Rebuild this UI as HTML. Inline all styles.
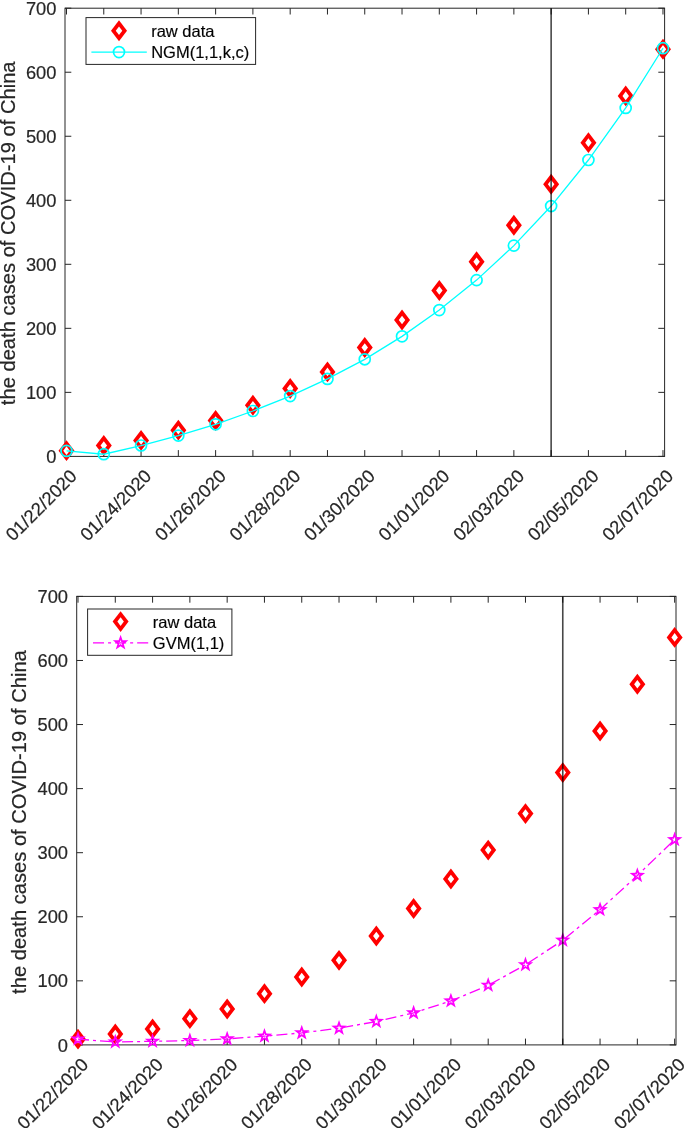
<!DOCTYPE html>
<html lang="en"><head><meta charset="utf-8"><title>COVID-19 death cases: NGM(1,1,k,c) and GVM(1,1)</title>
<style>html,body{margin:0;padding:0;background:#fff}svg{display:block}text{font-family:"Liberation Sans",Arial,Helvetica,sans-serif;stroke:#262626;stroke-width:0.2px}</style></head><body>
<svg width="685" height="1128" viewBox="0 0 685 1128">
<rect width="685" height="1128" fill="#fff"/>
<g stroke="#262626" stroke-width="1" fill="none">
<rect x="65" y="8.2" width="599.6" height="448.2"/>
<path d="M66.5 456.4v-6.3M66.5 8.2v6.3M103.78 456.4v-6.3M103.78 8.2v6.3M141.06 456.4v-6.3M141.06 8.2v6.3M178.34 456.4v-6.3M178.34 8.2v6.3M215.62 456.4v-6.3M215.62 8.2v6.3M252.9 456.4v-6.3M252.9 8.2v6.3M290.18 456.4v-6.3M290.18 8.2v6.3M327.46 456.4v-6.3M327.46 8.2v6.3M364.74 456.4v-6.3M364.74 8.2v6.3M402.02 456.4v-6.3M402.02 8.2v6.3M439.3 456.4v-6.3M439.3 8.2v6.3M476.58 456.4v-6.3M476.58 8.2v6.3M513.86 456.4v-6.3M513.86 8.2v6.3M551.14 456.4v-6.3M551.14 8.2v6.3M588.42 456.4v-6.3M588.42 8.2v6.3M625.7 456.4v-6.3M625.7 8.2v6.3M662.98 456.4v-6.3M662.98 8.2v6.3M65 456.4h6.3M664.6 456.4h-6.3M65 392.37h6.3M664.6 392.37h-6.3M65 328.34h6.3M664.6 328.34h-6.3M65 264.31h6.3M664.6 264.31h-6.3M65 200.29h6.3M664.6 200.29h-6.3M65 136.26h6.3M664.6 136.26h-6.3M65 72.23h6.3M664.6 72.23h-6.3M65 8.2h6.3M664.6 8.2h-6.3"/>
</g>
<g font-size="18.3" text-anchor="end" fill="#262626">
<text x="56.4" y="463">0</text>
<text x="56.4" y="398.97">100</text>
<text x="56.4" y="334.94">200</text>
<text x="56.4" y="270.91">300</text>
<text x="56.4" y="206.89">400</text>
<text x="56.4" y="142.86">500</text>
<text x="56.4" y="78.83">600</text>
<text x="56.4" y="14.8">700</text>
</g>
<g font-size="18.3" text-anchor="end" fill="#262626">
<text transform="translate(78 477.4) rotate(-45)">01/22/2020</text>
<text transform="translate(152.56 477.4) rotate(-45)">01/24/2020</text>
<text transform="translate(227.12 477.4) rotate(-45)">01/26/2020</text>
<text transform="translate(301.68 477.4) rotate(-45)">01/28/2020</text>
<text transform="translate(376.24 477.4) rotate(-45)">01/30/2020</text>
<text transform="translate(450.8 477.4) rotate(-45)">01/01/2020</text>
<text transform="translate(525.36 477.4) rotate(-45)">02/03/2020</text>
<text transform="translate(599.92 477.4) rotate(-45)">02/05/2020</text>
<text transform="translate(674.48 477.4) rotate(-45)">02/07/2020</text>
</g>
<text font-size="20.15" text-anchor="middle" fill="#262626" transform="translate(14.5 233.3) rotate(-90)">the death cases of COVID-19 of China</text>
<path fill="#ff0000" d="M66.5 440.19L74.5 450.64L66.5 461.09L58.5 450.64ZM103.78 435.07L111.78 445.52L103.78 455.97L95.78 445.52ZM141.06 429.94L149.06 440.39L141.06 450.84L133.06 440.39ZM178.34 419.7L186.34 430.15L178.34 440.6L170.34 430.15ZM215.62 410.09L223.62 420.54L215.62 430.99L207.62 420.54ZM252.9 394.73L260.9 405.18L252.9 415.63L244.9 405.18ZM290.18 378.08L298.18 388.53L290.18 398.98L282.18 388.53ZM327.46 361.43L335.46 371.88L327.46 382.33L319.46 371.88ZM364.74 337.1L372.74 347.55L364.74 358L356.74 347.55ZM402.02 309.57L410.02 320.02L402.02 330.47L394.02 320.02ZM439.3 280.12L447.3 290.57L439.3 301.02L431.3 290.57ZM476.58 251.3L484.58 261.75L476.58 272.2L468.58 261.75ZM513.86 214.81L521.86 225.26L513.86 235.71L505.86 225.26ZM551.14 173.83L559.14 184.28L551.14 194.73L543.14 184.28ZM588.42 132.21L596.42 142.66L588.42 153.11L580.42 142.66ZM625.7 85.47L633.7 95.92L625.7 106.37L617.7 95.92ZM662.98 38.73L670.98 49.18L662.98 59.63L654.98 49.18Z"/>
<path fill="#ffffff" d="M66.5 446.34L69.75 450.64L66.5 454.94L63.25 450.64ZM103.78 441.22L107.03 445.52L103.78 449.82L100.53 445.52ZM141.06 436.09L144.31 440.39L141.06 444.69L137.81 440.39ZM178.34 425.85L181.59 430.15L178.34 434.45L175.09 430.15ZM215.62 416.24L218.87 420.54L215.62 424.84L212.37 420.54ZM252.9 400.88L256.15 405.18L252.9 409.48L249.65 405.18ZM290.18 384.23L293.43 388.53L290.18 392.83L286.93 388.53ZM327.46 367.58L330.71 371.88L327.46 376.18L324.21 371.88ZM364.74 343.25L367.99 347.55L364.74 351.85L361.49 347.55ZM402.02 315.72L405.27 320.02L402.02 324.32L398.77 320.02ZM439.3 286.27L442.55 290.57L439.3 294.87L436.05 290.57ZM476.58 257.45L479.83 261.75L476.58 266.05L473.33 261.75ZM513.86 220.96L517.11 225.26L513.86 229.56L510.61 225.26ZM551.14 179.98L554.39 184.28L551.14 188.58L547.89 184.28ZM588.42 138.36L591.67 142.66L588.42 146.96L585.17 142.66ZM625.7 91.62L628.95 95.92L625.7 100.22L622.45 95.92ZM662.98 44.88L666.23 49.18L662.98 53.48L659.73 49.18Z"/>
<polyline points="66.5,450.89 103.78,454.22 141.06,445.52 178.34,435.59 215.62,424.32 252.9,411 290.18,396.09 327.46,378.93 364.74,359.33 402.02,336.35 439.3,310.09 476.58,280.13 513.86,245.62 551.14,206.05 588.42,160.01 625.7,107.89 662.98,48.22" fill="none" stroke="#00ffff" stroke-width="1.3"/>
<g fill="none" stroke="#00ffff" stroke-width="1.7">
<circle cx="66.5" cy="450.89" r="5.5"/>
<circle cx="103.78" cy="454.22" r="5.5"/>
<circle cx="141.06" cy="445.52" r="5.5"/>
<circle cx="178.34" cy="435.59" r="5.5"/>
<circle cx="215.62" cy="424.32" r="5.5"/>
<circle cx="252.9" cy="411" r="5.5"/>
<circle cx="290.18" cy="396.09" r="5.5"/>
<circle cx="327.46" cy="378.93" r="5.5"/>
<circle cx="364.74" cy="359.33" r="5.5"/>
<circle cx="402.02" cy="336.35" r="5.5"/>
<circle cx="439.3" cy="310.09" r="5.5"/>
<circle cx="476.58" cy="280.13" r="5.5"/>
<circle cx="513.86" cy="245.62" r="5.5"/>
<circle cx="551.14" cy="206.05" r="5.5"/>
<circle cx="588.42" cy="160.01" r="5.5"/>
<circle cx="625.7" cy="107.89" r="5.5"/>
<circle cx="662.98" cy="48.22" r="5.5"/>
</g>
<line x1="551.14" y1="8.2" x2="551.14" y2="456.4" stroke="#000" stroke-opacity="0.72" stroke-width="1.6"/>
<rect x="86" y="17.6" width="169.6" height="46.8" fill="#fff" stroke="#262626" stroke-width="1"/>
<path fill="#ff0000" d="M119 20.35L127 30.8L119 41.25L111 30.8Z"/>
<path fill="#ffffff" d="M119 26.5L122.25 30.8L119 35.1L115.75 30.8Z"/>
<line x1="91.4" y1="52.1" x2="146.8" y2="52.1" stroke="#00ffff" stroke-width="1.3"/>
<circle cx="119" cy="52.1" r="5.5" fill="none" stroke="#00ffff" stroke-width="1.7"/>
<g font-size="16.5" fill="#000">
<text x="151.2" y="36.6">raw data</text>
<text x="151.2" y="57.6">NGM(1,1,k,c)</text>
</g>
<g stroke="#262626" stroke-width="1" fill="none">
<rect x="76.7" y="596.4" width="599.3" height="448.5"/>
<path d="M78 1044.9v-6.3M78 596.4v6.3M115.29 1044.9v-6.3M115.29 596.4v6.3M152.58 1044.9v-6.3M152.58 596.4v6.3M189.87 1044.9v-6.3M189.87 596.4v6.3M227.16 1044.9v-6.3M227.16 596.4v6.3M264.45 1044.9v-6.3M264.45 596.4v6.3M301.74 1044.9v-6.3M301.74 596.4v6.3M339.03 1044.9v-6.3M339.03 596.4v6.3M376.32 1044.9v-6.3M376.32 596.4v6.3M413.61 1044.9v-6.3M413.61 596.4v6.3M450.9 1044.9v-6.3M450.9 596.4v6.3M488.19 1044.9v-6.3M488.19 596.4v6.3M525.48 1044.9v-6.3M525.48 596.4v6.3M562.77 1044.9v-6.3M562.77 596.4v6.3M600.06 1044.9v-6.3M600.06 596.4v6.3M637.35 1044.9v-6.3M637.35 596.4v6.3M674.64 1044.9v-6.3M674.64 596.4v6.3M76.7 1044.9h6.3M676 1044.9h-6.3M76.7 980.83h6.3M676 980.83h-6.3M76.7 916.76h6.3M676 916.76h-6.3M76.7 852.69h6.3M676 852.69h-6.3M76.7 788.61h6.3M676 788.61h-6.3M76.7 724.54h6.3M676 724.54h-6.3M76.7 660.47h6.3M676 660.47h-6.3M76.7 596.4h6.3M676 596.4h-6.3"/>
</g>
<g font-size="18.3" text-anchor="end" fill="#262626">
<text x="68" y="1051.5">0</text>
<text x="68" y="987.43">100</text>
<text x="68" y="923.36">200</text>
<text x="68" y="859.29">300</text>
<text x="68" y="795.21">400</text>
<text x="68" y="731.14">500</text>
<text x="68" y="667.07">600</text>
<text x="68" y="603">700</text>
</g>
<g font-size="18.3" text-anchor="end" fill="#262626">
<text transform="translate(89.5 1065.9) rotate(-45)">01/22/2020</text>
<text transform="translate(164.08 1065.9) rotate(-45)">01/24/2020</text>
<text transform="translate(238.66 1065.9) rotate(-45)">01/26/2020</text>
<text transform="translate(313.24 1065.9) rotate(-45)">01/28/2020</text>
<text transform="translate(387.82 1065.9) rotate(-45)">01/30/2020</text>
<text transform="translate(462.4 1065.9) rotate(-45)">01/01/2020</text>
<text transform="translate(536.98 1065.9) rotate(-45)">02/03/2020</text>
<text transform="translate(611.56 1065.9) rotate(-45)">02/05/2020</text>
<text transform="translate(686.14 1065.9) rotate(-45)">02/07/2020</text>
</g>
<text font-size="20.15" text-anchor="middle" fill="#262626" transform="translate(26.15 822.05) rotate(-90)">the death cases of COVID-19 of China</text>
<path fill="#ff0000" d="M78 1028.68L86 1039.13L78 1049.58L70 1039.13ZM115.29 1023.56L123.29 1034.01L115.29 1044.46L107.29 1034.01ZM152.58 1018.43L160.58 1028.88L152.58 1039.33L144.58 1028.88ZM189.87 1008.18L197.87 1018.63L189.87 1029.08L181.87 1018.63ZM227.16 998.57L235.16 1009.02L227.16 1019.47L219.16 1009.02ZM264.45 983.19L272.45 993.64L264.45 1004.09L256.45 993.64ZM301.74 966.53L309.74 976.98L301.74 987.43L293.74 976.98ZM339.03 949.88L347.03 960.33L339.03 970.78L331.03 960.33ZM376.32 925.53L384.32 935.98L376.32 946.43L368.32 935.98ZM413.61 897.98L421.61 908.43L413.61 918.88L405.61 908.43ZM450.9 868.5L458.9 878.96L450.9 889.41L442.9 878.96ZM488.19 839.67L496.19 850.12L488.19 860.57L480.19 850.12ZM525.48 803.15L533.48 813.6L525.48 824.05L517.48 813.6ZM562.77 762.15L570.77 772.6L562.77 783.05L554.77 772.6ZM600.06 720.5L608.06 730.95L600.06 741.4L592.06 730.95ZM637.35 673.73L645.35 684.18L637.35 694.63L629.35 684.18ZM674.64 626.96L682.64 637.41L674.64 647.86L666.64 637.41Z"/>
<path fill="#ffffff" d="M78 1034.83L81.25 1039.13L78 1043.43L74.75 1039.13ZM115.29 1029.71L118.54 1034.01L115.29 1038.31L112.04 1034.01ZM152.58 1024.58L155.83 1028.88L152.58 1033.18L149.33 1028.88ZM189.87 1014.33L193.12 1018.63L189.87 1022.93L186.62 1018.63ZM227.16 1004.72L230.41 1009.02L227.16 1013.32L223.91 1009.02ZM264.45 989.34L267.7 993.64L264.45 997.94L261.2 993.64ZM301.74 972.68L304.99 976.98L301.74 981.28L298.49 976.98ZM339.03 956.03L342.28 960.33L339.03 964.63L335.78 960.33ZM376.32 931.68L379.57 935.98L376.32 940.28L373.07 935.98ZM413.61 904.13L416.86 908.43L413.61 912.73L410.36 908.43ZM450.9 874.66L454.15 878.96L450.9 883.25L447.65 878.96ZM488.19 845.82L491.44 850.12L488.19 854.42L484.94 850.12ZM525.48 809.3L528.73 813.6L525.48 817.9L522.23 813.6ZM562.77 768.3L566.02 772.6L562.77 776.9L559.52 772.6ZM600.06 726.65L603.31 730.95L600.06 735.25L596.81 730.95ZM637.35 679.88L640.6 684.18L637.35 688.48L634.1 684.18ZM674.64 633.11L677.89 637.41L674.64 641.71L671.39 637.41Z"/>
<polyline points="78,1039.13 115.29,1042.02 152.58,1041.31 189.87,1040.54 227.16,1038.88 264.45,1036.19 301.74,1032.85 339.03,1028.24 376.32,1021.51 413.61,1012.86 450.9,1000.95 488.19,985.31 525.48,964.81 562.77,940.27 600.06,909.71 637.35,875.5 674.64,839.68" fill="none" stroke="#ff00ff" stroke-width="1.3" stroke-dasharray="11.04 4.02 3 4.02"/>
<path fill="#ff00ff" fill-rule="evenodd" d="M78 1030.93L79.93 1036.48L85.8 1036.6L81.12 1040.15L82.82 1045.77L78 1042.41L73.18 1045.77L74.88 1040.15L70.2 1036.6L76.07 1036.48ZM78 1036.23L78.68 1038.2L80.76 1038.24L79.1 1039.49L79.7 1041.48L78 1040.29L76.3 1041.48L76.9 1039.49L75.24 1038.24L77.32 1038.2ZM115.29 1033.82L117.22 1039.36L123.09 1039.48L118.41 1043.03L120.11 1048.65L115.29 1045.3L110.47 1048.65L112.17 1043.03L107.49 1039.48L113.36 1039.36ZM115.29 1039.12L115.97 1041.08L118.05 1041.12L116.39 1042.38L116.99 1044.36L115.29 1043.18L113.59 1044.36L114.19 1042.38L112.53 1041.12L114.61 1041.08ZM152.58 1033.11L154.51 1038.66L160.38 1038.78L155.7 1042.33L157.4 1047.95L152.58 1044.59L147.76 1047.95L149.46 1042.33L144.78 1038.78L150.65 1038.66ZM152.58 1038.41L153.26 1040.37L155.34 1040.42L153.68 1041.67L154.28 1043.66L152.58 1042.47L150.88 1043.66L151.48 1041.67L149.82 1040.42L151.9 1040.37ZM189.87 1032.34L191.8 1037.89L197.67 1038.01L192.99 1041.56L194.69 1047.18L189.87 1043.82L185.05 1047.18L186.75 1041.56L182.07 1038.01L187.94 1037.89ZM189.87 1037.64L190.55 1039.6L192.63 1039.65L190.97 1040.9L191.57 1042.89L189.87 1041.7L188.17 1042.89L188.77 1040.9L187.11 1039.65L189.19 1039.6ZM227.16 1030.68L229.09 1036.22L234.96 1036.34L230.28 1039.89L231.98 1045.51L227.16 1042.16L222.34 1045.51L224.04 1039.89L219.36 1036.34L225.23 1036.22ZM227.16 1035.98L227.84 1037.94L229.92 1037.98L228.26 1039.24L228.86 1041.22L227.16 1040.04L225.46 1041.22L226.06 1039.24L224.4 1037.98L226.48 1037.94ZM264.45 1027.99L266.38 1033.53L272.25 1033.65L267.57 1037.2L269.27 1042.82L264.45 1039.47L259.63 1042.82L261.33 1037.2L256.65 1033.65L262.52 1033.53ZM264.45 1033.29L265.13 1035.25L267.21 1035.29L265.55 1036.54L266.15 1038.53L264.45 1037.35L262.75 1038.53L263.35 1036.54L261.69 1035.29L263.77 1035.25ZM301.74 1024.65L303.67 1030.2L309.54 1030.32L304.86 1033.87L306.56 1039.49L301.74 1036.13L296.92 1039.49L298.62 1033.87L293.94 1030.32L299.81 1030.2ZM301.74 1029.95L302.42 1031.92L304.5 1031.96L302.84 1033.21L303.44 1035.2L301.74 1034.01L300.04 1035.2L300.64 1033.21L298.98 1031.96L301.06 1031.92ZM339.03 1020.04L340.96 1025.59L346.83 1025.71L342.15 1029.26L343.85 1034.88L339.03 1031.52L334.21 1034.88L335.91 1029.26L331.23 1025.71L337.1 1025.59ZM339.03 1025.34L339.71 1027.3L341.79 1027.35L340.13 1028.6L340.73 1030.59L339.03 1029.4L337.33 1030.59L337.93 1028.6L336.27 1027.35L338.35 1027.3ZM376.32 1013.31L378.25 1018.86L384.12 1018.98L379.44 1022.53L381.14 1028.15L376.32 1024.79L371.5 1028.15L373.2 1022.53L368.52 1018.98L374.39 1018.86ZM376.32 1018.61L377 1020.58L379.08 1020.62L377.42 1021.87L378.02 1023.86L376.32 1022.67L374.62 1023.86L375.22 1021.87L373.56 1020.62L375.64 1020.58ZM413.61 1004.66L415.54 1010.21L421.41 1010.33L416.73 1013.88L418.43 1019.5L413.61 1016.14L408.79 1019.5L410.49 1013.88L405.81 1010.33L411.68 1010.21ZM413.61 1009.96L414.29 1011.93L416.37 1011.97L414.71 1013.22L415.31 1015.21L413.61 1014.02L411.91 1015.21L412.51 1013.22L410.85 1011.97L412.93 1011.93ZM450.9 992.75L452.83 998.29L458.7 998.41L454.02 1001.96L455.72 1007.58L450.9 1004.23L446.08 1007.58L447.78 1001.96L443.1 998.41L448.97 998.29ZM450.9 998.05L451.58 1000.01L453.66 1000.05L452 1001.31L452.6 1003.29L450.9 1002.11L449.2 1003.29L449.8 1001.31L448.14 1000.05L450.22 1000.01ZM488.19 977.11L490.12 982.66L495.99 982.78L491.31 986.33L493.01 991.95L488.19 988.59L483.37 991.95L485.07 986.33L480.39 982.78L486.26 982.66ZM488.19 982.41L488.87 984.38L490.95 984.42L489.29 985.67L489.89 987.66L488.19 986.47L486.49 987.66L487.09 985.67L485.43 984.42L487.51 984.38ZM525.48 956.61L527.41 962.16L533.28 962.28L528.6 965.82L530.3 971.44L525.48 968.09L520.66 971.44L522.36 965.82L517.68 962.28L523.55 962.16ZM525.48 961.91L526.16 963.87L528.24 963.91L526.58 965.17L527.18 967.16L525.48 965.97L523.78 967.16L524.38 965.17L522.72 963.91L524.8 963.87ZM562.77 932.07L564.7 937.62L570.57 937.74L565.89 941.28L567.59 946.91L562.77 943.55L557.95 946.91L559.65 941.28L554.97 937.74L560.84 937.62ZM562.77 937.37L563.45 939.33L565.53 939.38L563.87 940.63L564.47 942.62L562.77 941.43L561.07 942.62L561.67 940.63L560.01 939.38L562.09 939.33ZM600.06 901.51L601.99 907.06L607.86 907.18L603.18 910.72L604.88 916.34L600.06 912.99L595.24 916.34L596.94 910.72L592.26 907.18L598.13 907.06ZM600.06 906.81L600.74 908.77L602.82 908.81L601.16 910.07L601.76 912.06L600.06 910.87L598.36 912.06L598.96 910.07L597.3 908.81L599.38 908.77ZM637.35 867.3L639.28 872.84L645.15 872.96L640.47 876.51L642.17 882.13L637.35 878.78L632.53 882.13L634.23 876.51L629.55 872.96L635.42 872.84ZM637.35 872.6L638.03 874.56L640.11 874.6L638.45 875.85L639.05 877.84L637.35 876.66L635.65 877.84L636.25 875.85L634.59 874.6L636.67 874.56ZM674.64 831.48L676.57 837.03L682.44 837.15L677.76 840.69L679.46 846.31L674.64 842.96L669.82 846.31L671.52 840.69L666.84 837.15L672.71 837.03ZM674.64 836.78L675.32 838.74L677.4 838.78L675.74 840.04L676.34 842.03L674.64 840.84L672.94 842.03L673.54 840.04L671.88 838.78L673.96 838.74Z"/>
<line x1="562.77" y1="596.4" x2="562.77" y2="1044.9" stroke="#000" stroke-opacity="0.72" stroke-width="1.6"/>
<rect x="87.6" y="609" width="144.3" height="46.3" fill="#fff" stroke="#262626" stroke-width="1"/>
<path fill="#ff0000" d="M120.6 611.15L128.6 621.6L120.6 632.05L112.6 621.6Z"/>
<path fill="#ffffff" d="M120.6 617.3L123.85 621.6L120.6 625.9L117.35 621.6Z"/>
<line x1="93" y1="642.9" x2="148.4" y2="642.9" stroke="#ff00ff" stroke-width="1.3" stroke-dasharray="11.04 4.02 3 4.02"/>
<path fill="#ff00ff" fill-rule="evenodd" d="M120.6 634.7L122.53 640.25L128.4 640.37L123.72 643.91L125.42 649.53L120.6 646.18L115.78 649.53L117.48 643.91L112.8 640.37L118.67 640.25ZM120.6 640L121.28 641.96L123.36 642L121.7 643.26L122.3 645.25L120.6 644.06L118.9 645.25L119.5 643.26L117.84 642L119.92 641.96Z"/>
<g font-size="16.5" fill="#000">
<text x="152.8" y="628">raw data</text>
<text x="152.8" y="649">GVM(1,1)</text>
</g>
</svg></body></html>
